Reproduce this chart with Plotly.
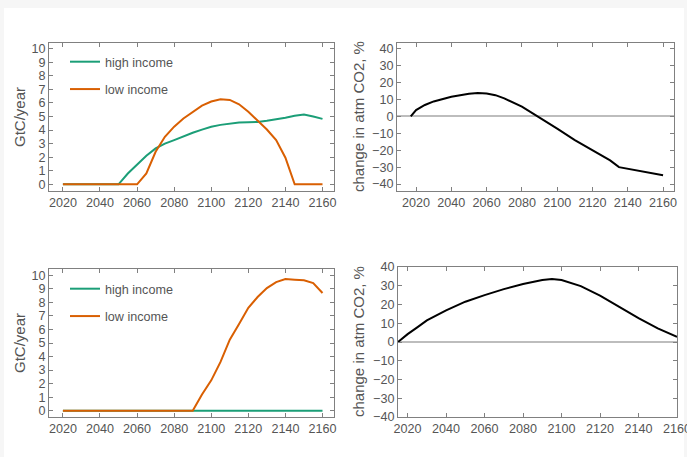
import plotly.graph_objects as go

# ---- data ----
years_tl = [2020, 2025, 2030, 2035, 2040, 2045, 2050, 2055, 2060, 2065, 2070, 2075, 2080, 2085,
            2090, 2095, 2100, 2105, 2110, 2115, 2120, 2125, 2130, 2135, 2140, 2145, 2150, 2155, 2160]
high_tl = [0, 0, 0, 0, 0, 0, 0, 0.8, 1.47, 2.1, 2.65, 3.0, 3.26, 3.55,
           3.8, 4.03, 4.24, 4.38, 4.49, 4.55, 4.58, 4.6, 4.68, 4.78, 4.9, 5.05, 5.15, 5.0, 4.82]
low_tl = [0, 0, 0, 0, 0, 0, 0, 0, 0, 0.8, 2.4, 3.5, 4.25, 4.85,
          5.35, 5.8, 6.1, 6.27, 6.22, 5.9, 5.35, 4.73, 4.04, 3.26, 1.96, 0, 0, 0, 0]

years_tr = [2017, 2020, 2025, 2030, 2040, 2050, 2055, 2060, 2065, 2070, 2080, 2090, 2100,
            2110, 2120, 2130, 2135, 2140, 2150, 2160]
co2_tr = [0, 3.7, 6.7, 8.8, 11.6, 13.3, 13.7, 13.5, 12.5, 10.6, 5.7, -0.6, -7.3,
          -14.0, -20.2, -26.0, -30.0, -31.0, -33.0, -34.8]

years_bl = [2020, 2030, 2040, 2050, 2060, 2070, 2080, 2090, 2095, 2100, 2105, 2110, 2115,
            2120, 2125, 2130, 2135, 2140, 2145, 2150, 2155, 2160]
high_bl = [0] * len(years_bl)
low_bl = [0, 0, 0, 0, 0, 0, 0, 0, 1.2, 2.24, 3.6, 5.25, 6.4,
          7.6, 8.4, 9.06, 9.5, 9.73, 9.68, 9.63, 9.43, 8.7]

years_br = [2015, 2020, 2025, 2030, 2040, 2050, 2060, 2070, 2080, 2090, 2095, 2100,
            2110, 2120, 2130, 2140, 2150, 2160]
co2_br = [0, 4.2, 7.8, 11.5, 16.9, 21.5, 25.0, 28.2, 30.9, 33.1, 33.6, 33.1,
          29.8, 24.7, 18.7, 12.7, 7.3, 2.7]

GREEN = "#1b9e77"
ORANGE = "#d95f02"
FONT = "Arial, Liberation Sans, sans-serif"
W, H = 687, 457

fig = go.Figure()

fig.add_trace(go.Scatter(x=years_tl, y=high_tl, mode="lines", name="high income",
                         line=dict(color=GREEN, width=2), xaxis="x", yaxis="y",
                         legend="legend", legendgroup="a"))
fig.add_trace(go.Scatter(x=years_tl, y=low_tl, mode="lines", name="low income",
                         line=dict(color=ORANGE, width=2), xaxis="x", yaxis="y",
                         legend="legend", legendgroup="b"))
fig.add_trace(go.Scatter(x=years_tr, y=co2_tr, mode="lines", showlegend=False,
                         line=dict(color="black", width=2), xaxis="x2", yaxis="y2"))
fig.add_trace(go.Scatter(x=years_bl, y=high_bl, mode="lines", name="high income",
                         line=dict(color=GREEN, width=2), xaxis="x3", yaxis="y3",
                         legend="legend2", legendgroup="c"))
fig.add_trace(go.Scatter(x=years_bl, y=low_bl, mode="lines", name="low income",
                         line=dict(color=ORANGE, width=2), xaxis="x3", yaxis="y3",
                         legend="legend2", legendgroup="d"))
fig.add_trace(go.Scatter(x=years_br, y=co2_br, mode="lines", showlegend=False,
                         line=dict(color="black", width=2), xaxis="x4", yaxis="y4"))


def px_x(p):
    return p / W


def px_y(p):
    return 1 - p / H


axis_common = dict(showgrid=False, showline=True, linecolor="#808080", linewidth=1,
                   mirror="ticks", ticks="inside", ticklen=4, tickcolor="#808080",
                   automargin=False,
                   tickfont=dict(family=FONT, size=12.6, color="#555555"))

def xax(dom, rng, anchor):
    d = dict(axis_common)
    d.update(domain=dom, range=rng, anchor=anchor, tickvals=[2020, 2040, 2060, 2080, 2100, 2120, 2140, 2160],
             zeroline=False, ticklabeloverflow="allow")
    return d

def yax(dom, rng, anchor, dtick, zl):
    d = dict(axis_common)
    d.update(domain=dom, range=rng, anchor=anchor, dtick=dtick, tick0=0,
             zeroline=zl, zerolinecolor="#bdbdbd", zerolinewidth=1.5)
    return d

fig.update_layout(
    template="none",
    width=W, height=H,
    margin=dict(l=0, r=0, t=0, b=0, pad=0),
    paper_bgcolor="#f6f6f6",
    plot_bgcolor="white",
    font=dict(family=FONT, color="#555555"),
    xaxis=xax([px_x(49), px_x(334)], [2012.5, 2166.2], "y"),
    yaxis=yax([px_y(191), px_y(43)], [-0.49, 10.41], "x", 1, False),
    xaxis2=xax([px_x(397), px_x(674)], [2009.2, 2166.2], "y2"),
    yaxis2=yax([px_y(191), px_y(43)], [-44.1, 43.3], "x2", 10, True),
    xaxis3=xax([px_x(49), px_x(334)], [2012.5, 2166.2], "y3"),
    yaxis3=yax([px_y(417), px_y(269)], [-0.47, 10.47], "x3", 1, False),
    xaxis4=xax([px_x(398), px_x(677)], [2015, 2160], "y4"),
    yaxis4=yax([px_y(417), px_y(267)], [-40, 40], "x4", 10, True),
    legend=dict(x=px_x(65), y=px_y(47), xanchor="left", yanchor="top",
                bgcolor="rgba(0,0,0,0)", tracegroupgap=8,
                font=dict(family=FONT, size=12.6, color="#555555")),
    legend2=dict(x=px_x(65), y=px_y(274), xanchor="left", yanchor="top",
                 bgcolor="rgba(0,0,0,0)", tracegroupgap=8,
                 font=dict(family=FONT, size=12.6, color="#555555")),
    shapes=[dict(type="rect", xref="paper", yref="paper", x0=px_x(4), x1=px_x(684),
                 y0=0, y1=px_y(8), fillcolor="white", line=dict(width=0), layer="below")],
)

title_font = dict(family=FONT, size=15, color="#555555")
for (xp, yp, txt) in [(19, 117, "GtC/year"), (358, 117, "change in atm CO2, %"),
                      (19, 343, "GtC/year"), (358, 342, "change in atm CO2, %")]:
    fig.add_annotation(x=px_x(xp), y=px_y(yp), xref="paper", yref="paper", text=txt,
                       textangle=-90, showarrow=False, font=title_font,
                       xanchor="center", yanchor="middle")

fig.write_html("out.html")
